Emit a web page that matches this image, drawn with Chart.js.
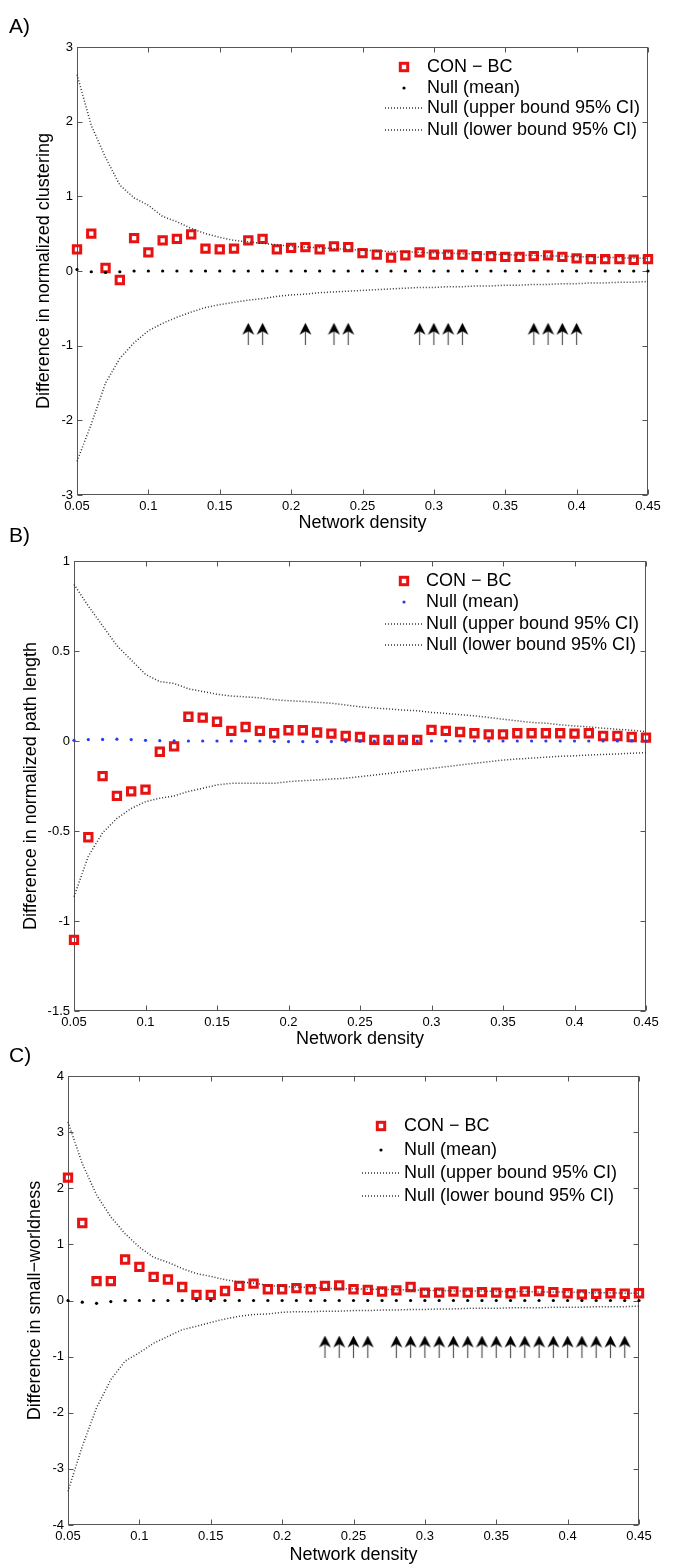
<!DOCTYPE html>
<html>
<head>
<meta charset="utf-8">
<script src="https://cdn.jsdelivr.net/npm/chart.js@4/dist/chart.umd.min.js"></script>
<style>
  body { margin: 0; background: #fff; }
  #page { position: relative; width: 685px; height: 1567px; overflow: hidden; }
  canvas { position: absolute; left: 0; }
  .lbl { position: absolute; left: 9px; font: 21px "Liberation Sans", Arial, sans-serif; line-height: 1; color: #000; }
</style>
</head>
<body>
<div id="page">
  <canvas id="chartA" width="685" height="535" style="top:0px"></canvas>
  <canvas id="chartB" width="685" height="515" style="top:535px"></canvas>
  <canvas id="chartC" width="685" height="517" style="top:1050px"></canvas>
  <div class="lbl" style="top:15px">A)</div>
  <div class="lbl" style="top:524px">B)</div>
  <div class="lbl" style="top:1044px">C)</div>
</div>
<script>
// network densities
const density = [0.05, 0.06, 0.07, 0.08, 0.09, 0.10, 0.11, 0.12, 0.13, 0.14,
                 0.15, 0.16, 0.17, 0.18, 0.19, 0.20, 0.21, 0.22, 0.23, 0.24,
                 0.25, 0.26, 0.27, 0.28, 0.29, 0.30, 0.31, 0.32, 0.33, 0.34,
                 0.35, 0.36, 0.37, 0.38, 0.39, 0.40, 0.41, 0.42, 0.43, 0.44, 0.45];
const xTicks = [0.05, 0.1, 0.15, 0.2, 0.25, 0.3, 0.35, 0.4, 0.45];

// A) clustering
const yTicksA = [-3, -2, -1, 0, 1, 2, 3];
const conBcA = [0.29, 0.50, 0.04, -0.12, 0.44, 0.25, 0.41, 0.43, 0.49, 0.30,
                0.29, 0.30, 0.41, 0.43, 0.29, 0.31, 0.32, 0.29, 0.33, 0.32,
                0.24, 0.22, 0.18, 0.21, 0.25, 0.22, 0.22, 0.22, 0.20, 0.20,
                0.19, 0.19, 0.20, 0.21, 0.19, 0.17, 0.16, 0.16, 0.16, 0.15, 0.16];
const nullMeanA = [0.02, -0.01, -0.02, -0.01, 0, 0, 0, 0, 0, 0,
                   0, 0, 0, 0, 0, 0, 0, 0, 0, 0,
                   0, 0, 0, 0, 0, 0, 0, 0, 0, 0,
                   0, 0, 0, 0, 0, 0, 0, 0, 0, 0, 0];
const upperA = [2.63, 1.95, 1.52, 1.15, 0.98, 0.88, 0.73, 0.66, 0.57, 0.50,
                0.45, 0.41, 0.39, 0.37, 0.35, 0.33, 0.32, 0.31, 0.30, 0.29,
                0.28, 0.27, 0.26, 0.26, 0.25, 0.24, 0.24, 0.23, 0.23, 0.22,
                0.22, 0.21, 0.21, 0.20, 0.20, 0.19, 0.19, 0.18, 0.18, 0.17, 0.17];
const lowerA = [-2.55, -2.05, -1.50, -1.17, -0.96, -0.80, -0.70, -0.62, -0.55, -0.49,
                -0.45, -0.42, -0.39, -0.37, -0.34, -0.32, -0.31, -0.29, -0.28, -0.27,
                -0.26, -0.25, -0.24, -0.23, -0.22, -0.22, -0.21, -0.21, -0.20, -0.20,
                -0.19, -0.19, -0.18, -0.18, -0.17, -0.17, -0.16, -0.16, -0.15, -0.15, -0.14];
const arrowsA = [0.17, 0.18, 0.21, 0.23, 0.24, 0.29, 0.30, 0.31, 0.32, 0.37, 0.38, 0.39, 0.40];
const arrowLevelA = -0.84;

// B) path length
const yTicksB = [-1.5, -1, -0.5, 0, 0.5, 1];
const conBcB = [-1.105, -0.535, -0.195, -0.305, -0.28, -0.27, -0.06, -0.03, 0.135, 0.13,
                0.107, 0.056, 0.078, 0.056, 0.043, 0.06, 0.06, 0.047, 0.041, 0.028,
                0.022, 0.006, 0.006, 0.006, 0.006, 0.062, 0.056, 0.05, 0.043, 0.037,
                0.037, 0.043, 0.043, 0.043, 0.043, 0.041, 0.043, 0.028, 0.028, 0.022, 0.019];
const nullMeanB = [0.004, 0.008, 0.009, 0.01, 0.008, 0.004, 0.002, 0.001, 0, 0,
                   0, 0, 0, 0, -0.002, -0.003, -0.003, -0.003, -0.003, -0.002,
                   -0.002, -0.001, 0, 0, 0, 0, 0, 0, 0, 0,
                   0, 0, 0, 0, 0, 0, 0, 0, 0, 0, 0];
const upperB = [0.87, 0.75, 0.64, 0.53, 0.45, 0.37, 0.33, 0.32, 0.29, 0.275,
                0.26, 0.25, 0.245, 0.24, 0.23, 0.224, 0.22, 0.215, 0.21, 0.20,
                0.19, 0.183, 0.178, 0.172, 0.168, 0.159, 0.153, 0.146, 0.14, 0.131,
                0.121, 0.112, 0.103, 0.099, 0.09, 0.084, 0.078, 0.071, 0.065, 0.06, 0.052];
const lowerB = [-0.865, -0.64, -0.51, -0.43, -0.375, -0.337, -0.318, -0.305, -0.28, -0.263,
                -0.244, -0.235, -0.235, -0.235, -0.235, -0.226, -0.22, -0.217, -0.211, -0.207,
                -0.198, -0.189, -0.18, -0.17, -0.161, -0.152, -0.143, -0.133, -0.124, -0.115,
                -0.106, -0.1, -0.095, -0.09, -0.085, -0.082, -0.078, -0.075, -0.072, -0.068, -0.065];

// C) small-worldness
const yTicksC = [-4, -3, -2, -1, 0, 1, 2, 3, 4];
const conBcC = [2.19, 1.38, 0.345, 0.345, 0.73, 0.60, 0.42, 0.375, 0.24, 0.10,
                0.10, 0.17, 0.26, 0.30, 0.20, 0.20, 0.22, 0.20, 0.26, 0.27,
                0.20, 0.19, 0.16, 0.18, 0.24, 0.14, 0.14, 0.16, 0.14, 0.15,
                0.14, 0.13, 0.16, 0.17, 0.15, 0.13, 0.11, 0.12, 0.13, 0.12, 0.13];
const nullMeanC = [0, -0.03, -0.05, -0.02, 0, 0, 0, 0, 0, 0,
                   0, 0, 0, 0, 0, 0, 0, 0, 0, 0,
                   0, 0, 0, 0, 0, 0, 0, 0, 0, 0,
                   0, 0, 0, 0, 0, 0, 0, 0, 0, 0, 0];
const upperC = [3.18, 2.44, 1.88, 1.49, 1.19, 0.95, 0.77, 0.68, 0.57, 0.48,
                0.43, 0.37, 0.33, 0.31, 0.27, 0.25, 0.24, 0.23, 0.22, 0.21,
                0.21, 0.20, 0.20, 0.19, 0.19, 0.18, 0.18, 0.17, 0.17, 0.17,
                0.16, 0.16, 0.16, 0.15, 0.15, 0.15, 0.14, 0.14, 0.14, 0.13, 0.13];
const lowerC = [-3.40, -2.60, -1.91, -1.41, -1.08, -0.93, -0.76, -0.64, -0.52, -0.46,
                -0.39, -0.33, -0.28, -0.25, -0.24, -0.21, -0.20, -0.20, -0.19, -0.19,
                -0.18, -0.18, -0.17, -0.17, -0.16, -0.16, -0.15, -0.15, -0.14, -0.14,
                -0.14, -0.13, -0.13, -0.13, -0.12, -0.12, -0.12, -0.11, -0.11, -0.11, -0.10];
const arrowsC = [0.23, 0.24, 0.25, 0.26, 0.28, 0.29, 0.30, 0.31, 0.32, 0.33, 0.34,
                 0.35, 0.36, 0.37, 0.38, 0.39, 0.40, 0.41, 0.42, 0.43, 0.44];
const arrowLevelC = -0.82;

const legendLabels = ['CON \u2212 BC', 'Null (mean)', 'Null (upper bound 95% CI)', 'Null (lower bound 95% CI)'];

const FONT = '"Liberation Sans", Arial, Helvetica, sans-serif';
Chart.defaults.font.family = FONT;
Chart.defaults.color = '#000';

const RED = 'rgb(232,18,18)';
const DOT = '#333';
const DASH = [1, 2];

// arrow marker used as point style
const arrowImg = document.createElement('canvas');
arrowImg.width = 13;
arrowImg.height = 22;
(function () {
    const c = arrowImg.getContext('2d');
    c.strokeStyle = '#555';
    c.lineWidth = 1.2;
    c.beginPath();
    c.moveTo(6.5, 8);
    c.lineTo(6.5, 22);
    c.stroke();
    c.fillStyle = '#000';
    c.beginPath();
    c.moveTo(6.5, 0);
    c.lineTo(12.5, 12);
    c.lineTo(6.5, 8.5);
    c.lineTo(0.5, 12);
    c.closePath();
    c.fill();
})();

function pts(ys) {
    return density.map((x, i) => ({ x: x, y: ys[i] }));
}

// box with inward ticks on all four sides
const frame = {
    id: 'frame',
    beforeDatasetsDraw(chart) {
        const { ctx, chartArea: a, scales } = chart;
        const l = Math.round(a.left) + 0.5, r = Math.round(a.right) - 0.5;
        const t = Math.round(a.top) + 0.5, b = Math.round(a.bottom) - 0.5;
        ctx.save();
        ctx.strokeStyle = '#555';
        ctx.lineWidth = 1;
        ctx.strokeRect(l, t, r - l, b - t);
        ctx.beginPath();
        scales.x.ticks.forEach(tk => {
            const px = Math.round(scales.x.getPixelForValue(tk.value)) + 0.5;
            ctx.moveTo(px, b); ctx.lineTo(px, b - 5);
            ctx.moveTo(px, t); ctx.lineTo(px, t + 5);
        });
        scales.y.ticks.forEach(tk => {
            const py = Math.round(scales.y.getPixelForValue(tk.value)) + 0.5;
            ctx.moveTo(l, py); ctx.lineTo(l + 5, py);
            ctx.moveTo(r, py); ctx.lineTo(r - 5, py);
        });
        ctx.stroke();
        ctx.restore();
    }
};

// matlab-style legend without a box
const boxLegend = {
    id: 'boxLegend',
    afterDraw(chart, args, o) {
        const ctx = chart.ctx;
        ctx.save();
        ctx.font = '18px ' + FONT;
        ctx.textBaseline = 'middle';
        legendLabels.forEach((txt, i) => {
            const y = o.rows[i];
            if (i === 0) {
                ctx.strokeStyle = RED;
                ctx.lineWidth = 3;
                ctx.strokeRect(o.mark - 3.7, y - 3.7, 7.4, 7.4);
            } else if (i === 1) {
                ctx.fillStyle = o.meanColor;
                ctx.beginPath();
                ctx.arc(o.mark, y, 1.6, 0, Math.PI * 2);
                ctx.fill();
            } else {
                ctx.strokeStyle = DOT;
                ctx.lineWidth = 1.5;
                ctx.setLineDash(DASH);
                ctx.beginPath();
                ctx.moveTo(o.mark - 19, y);
                ctx.lineTo(o.mark + 19, y);
                ctx.stroke();
                ctx.setLineDash([]);
            }
            ctx.fillStyle = '#000';
            ctx.fillText(txt, o.text, y);
        });
        ctx.restore();
    }
};

function makeChart(id, p) {
    const datasets = [
        { data: pts(p.upper), showLine: true, pointRadius: 0, borderColor: DOT, borderWidth: 1.5, borderDash: DASH },
        { data: pts(p.lower), showLine: true, pointRadius: 0, borderColor: DOT, borderWidth: 1.5, borderDash: DASH },
        { data: pts(p.mean), pointStyle: 'circle', pointRadius: 1.6, backgroundColor: p.meanColor, borderWidth: 0 },
        { data: pts(p.con), pointStyle: 'rect', pointRadius: 5.2, borderColor: RED, borderWidth: 3, backgroundColor: 'rgba(255,255,255,0)' }
    ];
    if (p.arrows) {
        datasets.push({ data: p.arrows.map(x => ({ x: x, y: p.arrowLevel })), pointStyle: arrowImg });
    }
    return new Chart(document.getElementById(id), {
        type: 'scatter',
        data: { datasets: datasets.map(d => Object.assign({ clip: false }, d)) },
        options: {
            responsive: false,
            animation: false,
            devicePixelRatio: 1,
            events: [],
            layout: { padding: { top: p.padTop, right: p.padRight, left: 0, bottom: 0 } },
            plugins: {
                legend: { display: false },
                tooltip: { enabled: false },
                boxLegend: p.legend
            },
            scales: {
                x: {
                    type: 'linear', min: 0.05, max: 0.45,
                    afterBuildTicks: s => { s.ticks = xTicks.map(v => ({ value: v })); },
                    afterFit: s => { s.height = p.xHeight; },
                    grid: { display: false, drawTicks: false },
                    border: { display: false },
                    ticks: { padding: 4, maxRotation: 0, autoSkip: false, font: { size: 13 }, callback: v => String(+v.toFixed(2)) },
                    title: { display: true, text: 'Network density', font: { size: 18 }, padding: { top: 0, bottom: p.xTitlePad } }
                },
                y: {
                    type: 'linear', min: p.yTicks[0], max: p.yTicks[p.yTicks.length - 1],
                    afterBuildTicks: s => { s.ticks = p.yTicks.map(v => ({ value: v })); },
                    afterFit: s => { s.width = p.yWidth; },
                    grid: { display: false, drawTicks: false },
                    border: { display: false },
                    ticks: { padding: 4, autoSkip: false, font: { size: 13 }, callback: v => String(v) },
                    title: { display: true, text: p.yTitle, font: { size: 18 }, padding: { top: p.yTitlePad, bottom: 0 } }
                }
            }
        },
        plugins: [frame, boxLegend]
    });
}

makeChart('chartA', {
    con: conBcA, mean: nullMeanA, upper: upperA, lower: lowerA, meanColor: '#000',
    arrows: arrowsA, arrowLevel: arrowLevelA, yTicks: yTicksA,
    yTitle: 'Difference in normalized clustering',
    padTop: 47, padRight: 37, yWidth: 77, xHeight: 40, xTitlePad: 1, yTitlePad: 33,
    legend: { rows: [67, 88, 108, 130], mark: 404, text: 427, meanColor: '#000' }
});

makeChart('chartB', {
    con: conBcB, mean: nullMeanB, upper: upperB, lower: lowerB, meanColor: 'rgb(40,60,235)',
    yTicks: yTicksB,
    yTitle: 'Difference in normalized path length',
    padTop: 26, padRight: 39, yWidth: 74, xHeight: 39, xTitlePad: 0, yTitlePad: 20,
    legend: { rows: [46, 67, 89, 110], mark: 404, text: 426, meanColor: 'rgb(40,60,235)' }
});

makeChart('chartC', {
    con: conBcC, mean: nullMeanC, upper: upperC, lower: lowerC, meanColor: '#000',
    arrows: arrowsC, arrowLevel: arrowLevelC, yTicks: yTicksC,
    yTitle: 'Difference in small\u2212worldness',
    padTop: 26, padRight: 46, yWidth: 68, xHeight: 42, xTitlePad: 1, yTitlePad: 24,
    legend: { rows: [76, 100, 123, 146], mark: 381, text: 404, meanColor: '#000' }
});
</script>
</body>
</html>
